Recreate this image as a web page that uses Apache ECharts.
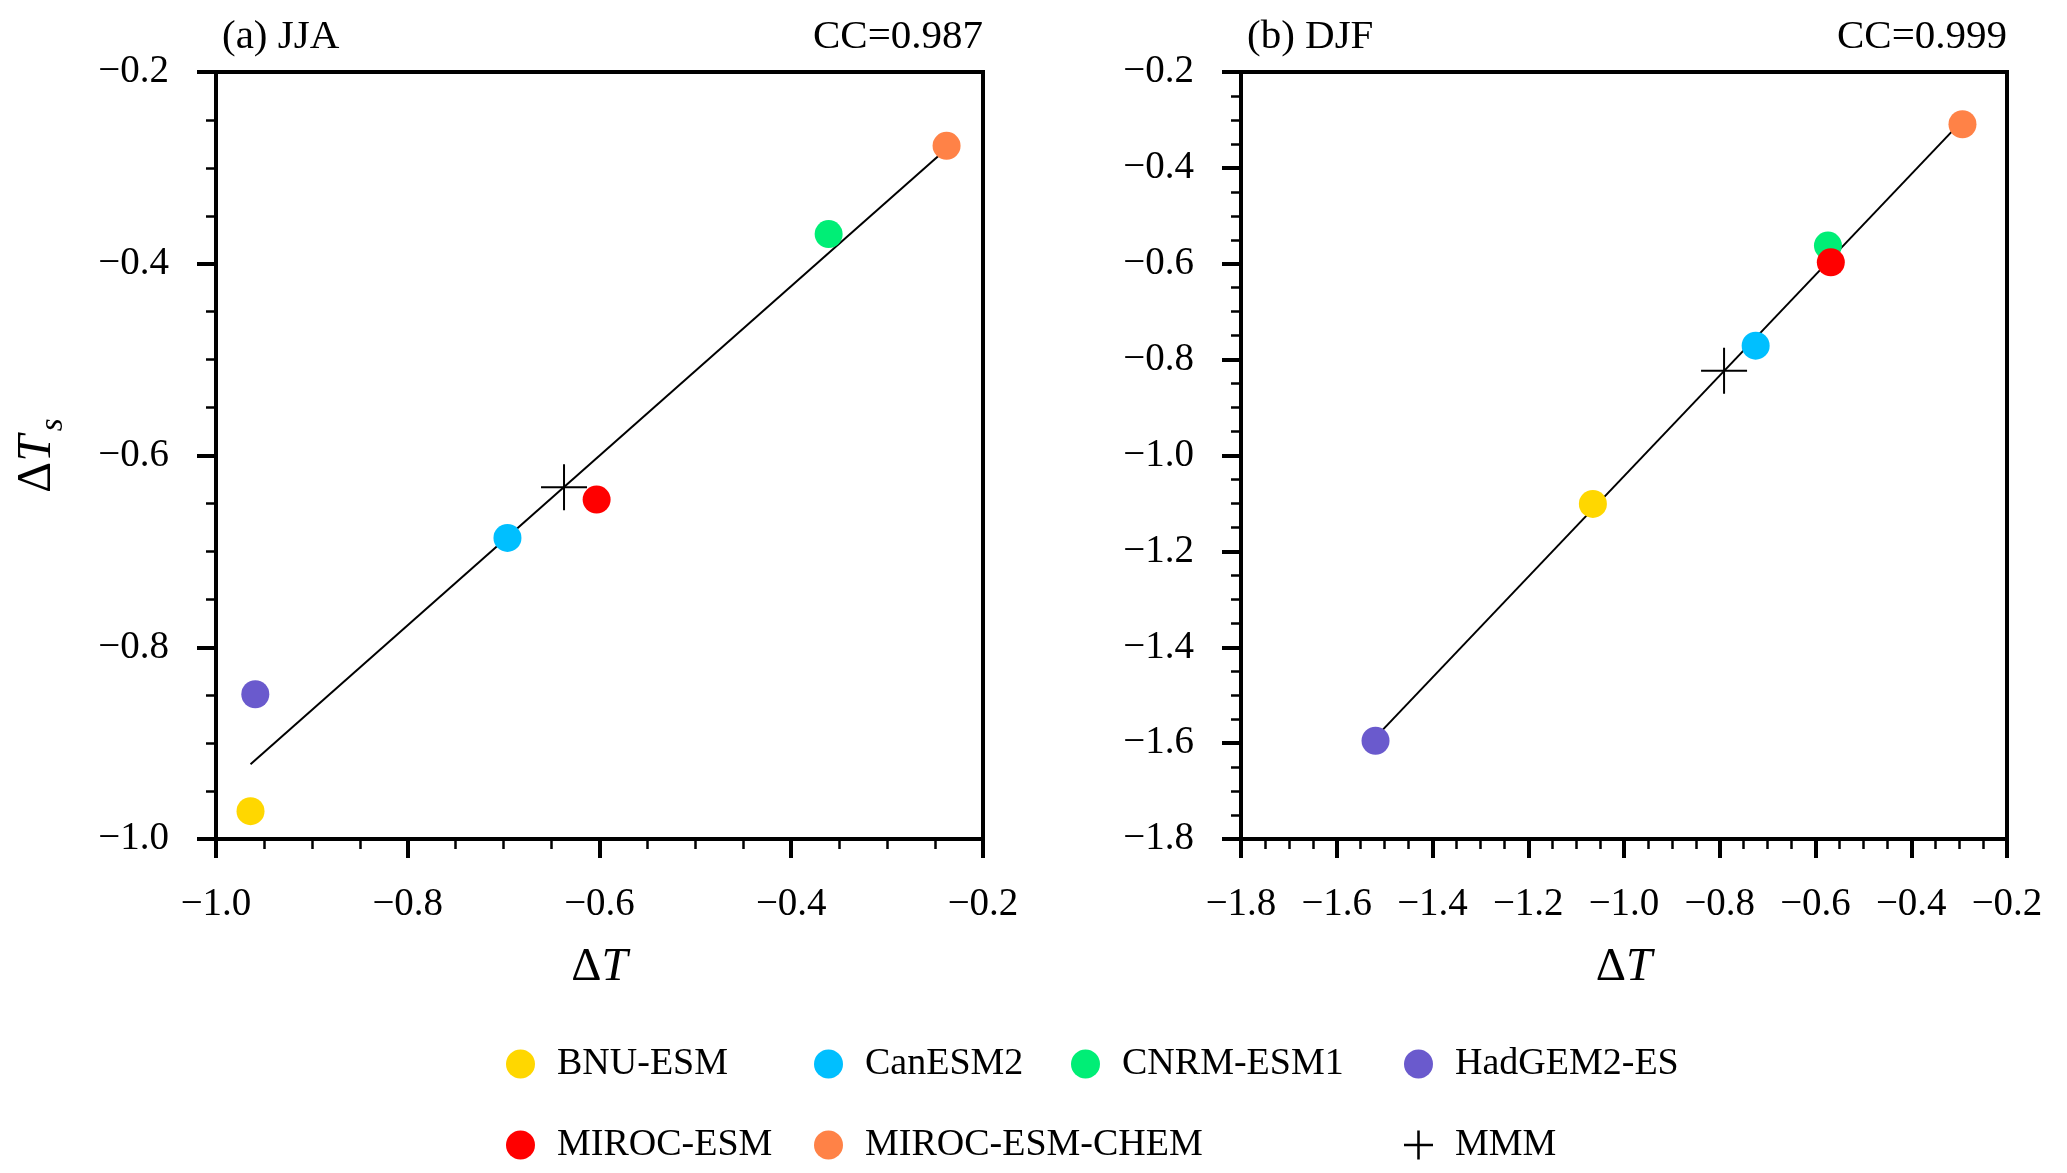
<!DOCTYPE html>
<html>
<head>
<meta charset="utf-8">
<script src="https://cdn.jsdelivr.net/npm/echarts@6/dist/echarts.min.js"></script>
<style>
html,body{margin:0;padding:0;background:#fff;}
#chart{width:2067px;height:1173px;}
</style>
</head>
<body>
<div id="chart"></div>
<script>
// ---- data ----
const models = ['BNU-ESM', 'CanESM2', 'CNRM-ESM1', 'HadGEM2-ES', 'MIROC-ESM', 'MIROC-ESM-CHEM'];
const modelColors = ['#FFD700', '#00BFFF', '#00EE76', '#6A5ACD', '#FF0000', '#FF8247'];
const jjaDT  = [-0.964, -0.696, -0.361, -0.959, -0.603, -0.238];
const jjaDTs = [-0.971, -0.686, -0.369, -0.849, -0.646, -0.277];
const djfDT  = [-1.065, -0.725, -0.574, -1.519, -0.568, -0.293];
const djfDTs = [-1.101, -0.771, -0.562, -1.595, -0.597, -0.309];
const mmmJJA = [-0.637, -0.633];
const mmmDJF = [-0.791, -0.823];
const fitJJA = [[-0.964, -0.922], [-0.238, -0.280]];
const fitDJF = [[-1.519, -1.588], [-0.293, -0.301]];
const panelTitles = ['(a) JJA', '(b) DJF'];
const ccLabels = ['CC=0.987', 'CC=0.999'];
const xRanges = [[-1.0, -0.2], [-1.8, -0.2]];
const yRanges = [[-1.0, -0.2], [-1.8, -0.2]];
const tickStep = 0.2;

const FONT = "'Liberation Serif', 'Times New Roman', serif";
const plusPath = 'path://M22,0h2v22h22v2h-22v22h-2v-22h-22v-2h22z';

const fmt = v => (v < -1e-9 ? '\u2212' : '') + Math.abs(v).toFixed(1);

const grids = [
  {left: 216, top: 72, width: 767, height: 767},
  {left: 1241, top: 72, width: 766, height: 767}
].map(g => Object.assign(g, {show: true, borderColor: '#000', borderWidth: 4, backgroundColor: 'transparent', containLabel: false}));

function axisCommon(range) {
  return {
    type: 'value', min: range[0], max: range[1], interval: tickStep,
    axisLine: {show: true, onZero: false, lineStyle: {color: '#000', width: 4}},
    axisTick: {show: true, inside: false, length: 19, lineStyle: {color: '#000', width: 4}},
    minorTick: {show: true, splitNumber: 4, length: 10, lineStyle: {color: '#000', width: 2.5}},
    splitLine: {show: false}, minorSplitLine: {show: false},
    axisLabel: {show: true, margin: 46, formatter: fmt, color: '#000', fontFamily: FONT, fontSize: 39, showMinLabel: true, showMaxLabel: true, hideOverlap: false}
  };
}

const xName = {
  name: '{d|\u0394}{t|T}', nameLocation: 'middle', nameGap: 104,
  nameTextStyle: {rich: {
    d: {fontFamily: FONT, fontSize: 47, color: '#000', lineHeight: 50},
    t: {fontFamily: FONT, fontSize: 47, fontStyle: 'italic', color: '#000', lineHeight: 50}
  }}
};

const xAxes = xRanges.map((r, i) => Object.assign(axisCommon(r), {gridIndex: i, position: 'bottom'}, xName));
const yAxes = yRanges.map((r, i) => Object.assign(axisCommon(r), {gridIndex: i, position: 'left'}));
yAxes.forEach(a => { a.axisLabel = Object.assign({}, a.axisLabel, {margin: 47}); });
Object.assign(yAxes[0], {
  name: '{d|\u0394}{t|T}{s|s}', nameLocation: 'middle', nameGap: 146,
  nameTextStyle: {rich: {
    d: {fontFamily: FONT, fontSize: 48, color: '#000', lineHeight: 66},
    t: {fontFamily: FONT, fontSize: 48, fontStyle: 'italic', color: '#000', lineHeight: 66},
    s: {fontFamily: FONT, fontSize: 33, fontStyle: 'italic', color: '#000', lineHeight: 32, verticalAlign: 'bottom', padding: [0, 0, 0, 4]}
  }}
});

const series = [];
const panelX = [jjaDT, djfDT], panelY = [jjaDTs, djfDTs];
const fits = [fitJJA, fitDJF], mmms = [mmmJJA, mmmDJF];
[0, 1].forEach(p => {
  series.push({
    type: 'line', xAxisIndex: p, yAxisIndex: p, data: fits[p], symbol: 'none', silent: true,
    lineStyle: {color: '#000', width: 2}, z: 2, animation: false
  });
  models.forEach((m, i) => {
    series.push({
      type: 'scatter', name: m, xAxisIndex: p, yAxisIndex: p,
      data: [[panelX[p][i], panelY[p][i]]], symbol: 'circle', symbolSize: 28,
      itemStyle: {color: modelColors[i], opacity: 1}, z: 5, emphasis: {disabled: true}
    });
  });
  series.push({
    type: 'scatter', name: 'MMM', xAxisIndex: p, yAxisIndex: p,
    data: [mmms[p]], symbol: plusPath, symbolSize: 46,
    itemStyle: {color: '#000', opacity: 1}, z: 6, emphasis: {disabled: true}
  });
});

// legend layout (positions only)
const legendItems = [
  {name: 'BNU-ESM', icon: 'circle', left: 506, row: 0},
  {name: 'CanESM2', icon: 'circle', left: 814, row: 0},
  {name: 'CNRM-ESM1', icon: 'circle', left: 1071, row: 0},
  {name: 'HadGEM2-ES', icon: 'circle', left: 1404, row: 0},
  {name: 'MIROC-ESM', icon: 'circle', left: 506, row: 1},
  {name: 'MIROC-ESM-CHEM', icon: 'circle', left: 814, row: 1},
  {name: 'MMM', icon: 'path://M13,0h2.5v13h13v2.5h-13v13h-2.5v-13h-13v-2.5h13z', left: 1404, row: 1}
];
const rowCenters = [1066, 1147];
const legends = legendItems.map(it => ({
  data: [{name: it.name, icon: it.icon}],
  left: it.left, top: rowCenters[it.row] - 21, padding: 0,
  itemWidth: 29, itemHeight: 29, itemGap: 0, selectedMode: false,
  textStyle: {fontFamily: FONT, fontSize: 38, color: '#000', padding: [0, 0, 0, 17]}
}));

const graphics = [];
[[222, 983], [1247, 2007]].forEach((pos, p) => {
  graphics.push({type: 'text', x: pos[0], y: 37, silent: true,
    style: {text: panelTitles[p], font: '41px "Liberation Serif"', fill: '#000', align: 'left', verticalAlign: 'middle'}});
  graphics.push({type: 'text', x: pos[1], y: 37, silent: true,
    style: {text: ccLabels[p], font: '41px "Liberation Serif"', fill: '#000', align: 'right', verticalAlign: 'middle'}});
});

const chart = echarts.init(document.getElementById('chart'), null, {renderer: 'canvas'});
chart.setOption({
  animation: false,
  backgroundColor: '#fff',
  textStyle: {fontFamily: FONT},
  grid: grids,
  xAxis: xAxes,
  yAxis: yAxes,
  legend: legends,
  series: series,
  graphic: graphics
});
</script>
</body>
</html>
